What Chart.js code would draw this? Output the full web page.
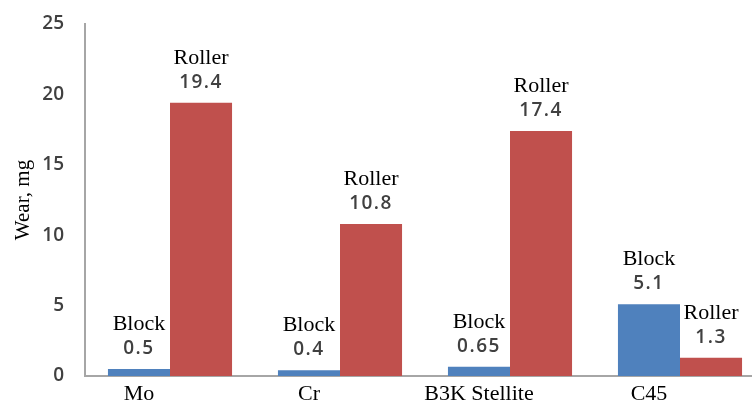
<!DOCTYPE html>
<html>
<head>
<meta charset="utf-8">
<script src="https://cdn.jsdelivr.net/npm/chart.js@4"></script>
<style>
  html, body { margin: 0; padding: 0; background: #fff; overflow: hidden; }
  #wrap { width: 770px; height: 402px; }
</style>
</head>
<body>
<div id="wrap"><canvas id="chart"></canvas></div>
<script>
// values
const categories = ["Mo", "Cr", "B3K Stellite", "C45"];
const blockWear = [0.5, 0.4, 0.65, 5.1];
const rollerWear = [19.4, 10.8, 17.4, 1.3];
const yTicks = [0, 5, 10, 15, 20, 25];

const serif = "'Liberation Serif', 'DejaVu Serif', serif";
const sans = "'Open Sans', 'Liberation Sans', sans-serif";

// name + value above each bar, category names under the blue bars
const barLabels = {
  id: 'barLabels',
  afterDatasetsDraw(chart) {
    const ctx = chart.ctx;
    ctx.save();
    ctx.textAlign = 'center';
    ctx.textBaseline = 'alphabetic';
    chart.data.datasets.forEach((ds, di) => {
      chart.getDatasetMeta(di).data.forEach((bar, i) => {
        ctx.letterSpacing = '0px';
        ctx.fillStyle = '#000';
        ctx.font = '22px ' + serif;
        ctx.fillText(ds.label, bar.x, bar.y - 39);
        ctx.letterSpacing = '1.5px';
        ctx.fillStyle = '#404040';
        ctx.font = '600 19px ' + sans;
        ctx.fillText(String(ds.data[i]), bar.x, bar.y - 15);
      });
    });
    const first = chart.getDatasetMeta(0).data;
    ctx.letterSpacing = '0px';
    ctx.fillStyle = '#000';
    ctx.font = '22px ' + serif;
    categories.forEach((c, i) => {
      ctx.fillText(c, first[i].x, chart.chartArea.bottom + 24);
    });
    ctx.restore();
  }
};

new Chart(document.getElementById('chart'), {
  type: 'bar',
  data: {
    labels: categories,
    datasets: [
      { label: 'Block', data: blockWear, backgroundColor: '#4f81bd' },
      { label: 'Roller', data: rollerWear, backgroundColor: '#c0504d' }
    ]
  },
  options: {
    responsive: true,
    maintainAspectRatio: false,
    animation: false,
    layout: { padding: { top: 24, right: 5, bottom: 26, left: 0 } },
    categoryPercentage: 0.73,
    barPercentage: 1,
    plugins: {
      legend: { display: false },
      tooltip: { enabled: false }
    },
    scales: {
      x: {
        grid: { display: false },
        border: { color: '#a6a6a6', width: 2 },
        ticks: { display: false },
        afterFit(axis) { axis.height = 0; }
      },
      y: {
        min: 0,
        max: 25,
        afterBuildTicks(axis) { axis.ticks = yTicks.map(v => ({ value: v })); },
        grid: { display: false, drawTicks: false },
        border: { color: '#a6a6a6', width: 2 },
        ticks: {
          padding: 21,
          color: '#404040',
          font: { family: sans, size: 19, weight: '600' }
        },
        title: {
          display: true,
          text: 'Wear, mg',
          color: '#000',
          font: { family: serif, size: 21 },
          padding: { top: 11, bottom: 0 }
        },
        afterFit(axis) {
          axis.width = 85;
          // tick padding would otherwise push the plot area in
          axis.paddingTop = 0;
          axis.paddingBottom = 0;
        }
      }
    }
  },
  plugins: [barLabels]
});
</script>
</body>
</html>
